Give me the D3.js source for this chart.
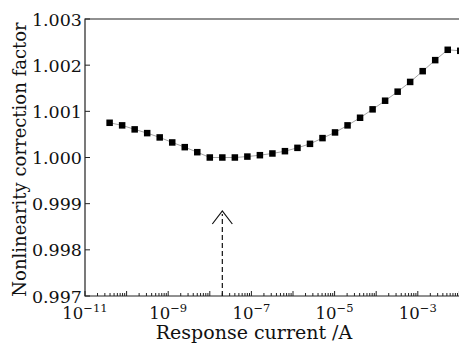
<!DOCTYPE html>
<html>
<head>
<meta charset="utf-8">
<script src="https://cdn.jsdelivr.net/npm/d3@7"></script>
<style>
  body { margin: 0; background: #fff; }
  text { font-family: "DejaVu Serif", "Liberation Serif", serif; fill: #111; }
</style>
</head>
<body>
<script>
// response current (A) and correction factor
const currents = [3.906e-11, 7.813e-11, 1.563e-10, 3.125e-10, 6.25e-10, 1.25e-9, 2.5e-9, 5e-9,
  1e-8, 2e-8, 4e-8, 8e-8, 1.6e-7, 3.2e-7, 6.4e-7, 1.28e-6, 2.56e-6, 5.12e-6,
  1.024e-5, 2.048e-5, 4.096e-5, 8.192e-5, 1.638e-4, 3.277e-4, 6.554e-4,
  1.311e-3, 2.621e-3, 5.243e-3, 1.049e-2];
const factors = [1.000752, 1.000696, 1.000609, 1.000528, 1.000435, 1.000326, 1.000224, 1.000115,
  1.0000, 1.0000, 1.0000, 1.00002, 1.00005, 1.000087, 1.000137, 1.000209, 1.000296, 1.00042,
  1.000543, 1.000696, 1.000861, 1.001043, 1.00123, 1.001426, 1.001637,
  1.00187, 1.002109, 1.002333, 1.002311];
const yTicks = [0.997, 0.998, 0.999, 1.000, 1.001, 1.002, 1.003];
const xLabelExps = [-11, -9, -7, -5, -3];
const markedCurrent = 2e-8;

const W = 459, H = 344;
const mLeft = 85, mRight = 459.4, mTop = 19, mBottom = 296;

const svg = d3.select("body").append("svg")
  .attr("width", W).attr("height", H);

const x = d3.scaleLog().domain([1e-11, 1e-2]).range([mLeft, mRight]);
const y = d3.scaleLinear().domain([0.997, 1.003]).range([mBottom, mTop]);

const axisColor = "#222";

// frame: left, bottom, top
svg.append("path")
  .attr("d", `M${mRight},${mTop}H${mLeft}V${mBottom}H${mRight}`)
  .attr("fill", "none").attr("stroke", axisColor).attr("stroke-width", 1.2);

// x ticks (inward)
const xTickVals = x.ticks();
svg.append("g").selectAll("line").data(xTickVals).join("line")
  .attr("x1", d => x(d)).attr("x2", d => x(d))
  .attr("y1", mBottom)
  .attr("y2", d => {
    const lg = Math.log10(d);
    return Math.abs(lg - Math.round(lg)) < 1e-6 ? mBottom - 5 : mBottom - 3;
  })
  .attr("stroke", axisColor).attr("stroke-width", 1);

// x tick labels
const xl = svg.append("g").selectAll("text").data(xLabelExps).join("text")
  .attr("x", d => x(Math.pow(10, d)))
  .attr("y", 319)
  .attr("text-anchor", "middle")
  .attr("font-size", 16.5);
xl.append("tspan").text("10");
xl.append("tspan").attr("dy", -7).attr("font-size", 11.5).text(d => "\u2212" + Math.abs(d));

// y ticks
svg.append("g").selectAll("line").data(yTicks).join("line")
  .attr("x1", mLeft).attr("x2", mLeft + 5)
  .attr("y1", d => y(d)).attr("y2", d => y(d))
  .attr("stroke", axisColor).attr("stroke-width", 1);

svg.append("g").selectAll("text").data(yTicks).join("text")
  .attr("x", mLeft - 3)
  .attr("y", d => y(d))
  .attr("dy", "0.38em")
  .attr("text-anchor", "end")
  .attr("font-size", 17.5)
  .text(d => d3.format(".3f")(d));

// axis titles
svg.append("text")
  .attr("x", 254).attr("y", 339)
  .attr("text-anchor", "middle")
  .attr("font-size", 19)
  .text("Response current /A");

svg.append("text")
  .attr("transform", `translate(26,${(mTop + mBottom) / 2 + 2}) rotate(-90)`)
  .attr("text-anchor", "middle")
  .attr("font-size", 18)
  .text("Nonlinearity correction factor");

// data
const pts = currents.map((c, i) => [c, factors[i]]);
const plot = svg.append("g");

plot.append("path")
  .datum(pts)
  .attr("d", d3.line().x(d => x(d[0])).y(d => y(d[1])))
  .attr("fill", "none").attr("stroke", "#999").attr("stroke-width", 0.9);

const s = 6.5;
plot.selectAll("rect").data(pts).join("rect")
  .attr("x", d => x(d[0]) - s / 2).attr("y", d => y(d[1]) - s / 2)
  .attr("width", s).attr("height", s)
  .attr("fill", "#000");

// dashed arrow marking minimum
const ax = x(markedCurrent);
const tipY = 211;
svg.append("line")
  .attr("x1", ax).attr("x2", ax)
  .attr("y1", mBottom).attr("y2", tipY + 3)
  .attr("stroke", "#111").attr("stroke-width", 1.2)
  .attr("stroke-dasharray", "5,3");
svg.append("path")
  .attr("d", `M${ax - 10},${tipY + 13}L${ax},${tipY}L${ax + 10},${tipY + 13}`)
  .attr("fill", "none").attr("stroke", "#111").attr("stroke-width", 1.2);
</script>
</body>
</html>
